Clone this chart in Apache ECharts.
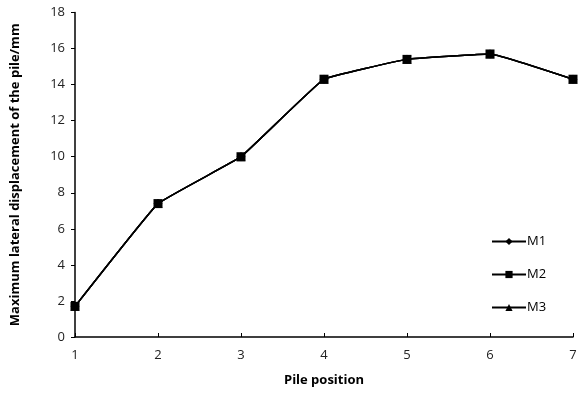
<!DOCTYPE html>
<html>
<head>
<meta charset="utf-8">
<script src="https://cdn.jsdelivr.net/npm/echarts@6/dist/echarts.min.js"></script>
<style>
  html, body { margin: 0; padding: 0; background: #fff; }
  #chart { width: 584px; height: 393px; }
</style>
</head>
<body>
<div id="chart"></div>
<script>
// Pile positions along the row
const positions = [1, 2, 3, 4, 5, 6, 7];
// Maximum lateral displacement (mm) for each model
const m1 = [1.7, 7.4, 10.0, 14.3, 15.4, 15.7, 14.3];
const m2 = [1.7, 7.4, 10.0, 14.3, 15.4, 15.7, 14.3];
const m3 = [1.7, 7.4, 10.0, 14.3, 15.4, 15.7, 14.3];
const seriesNames = ['M1', 'M2', 'M3'];

const font = '"Open Sans", "Noto Sans", sans-serif';
const pair = (vals) => positions.map((p, i) => [p, vals[i]]);

const chart = echarts.init(document.getElementById('chart'), null, { renderer: 'canvas' });

function lineSeries(name, vals, symbol, size, z) {
  return {
    name: name,
    type: 'line',
    data: pair(vals),
    smooth: 0.08,
    symbol: symbol,
    symbolSize: size,
    z: z,
    lineStyle: { color: '#000', width: 1.5 },
    itemStyle: { color: '#000' },
    emphasis: { disabled: true }
  };
}

chart.setOption({
  animation: false,
  grid: { left: 75, right: 11, top: 12.5, bottom: 56, containLabel: false },
  legend: {
    orient: 'vertical',
    left: 486,
    top: 230,
    itemGap: 20,
    itemWidth: 34,
    itemHeight: 9,
    data: seriesNames,
    textStyle: { fontFamily: font, fontSize: 13, color: '#000', padding: [0, 0, 0, -4] }
  },
  xAxis: {
    type: 'value',
    min: 1,
    max: 7,
    interval: 1,
    name: 'Pile position',
    nameLocation: 'middle',
    nameGap: 37,
    nameTextStyle: { fontFamily: font, fontSize: 13, fontWeight: 'bold', color: '#000' },
    axisLine: { lineStyle: { color: '#000', width: 1.5 } },
    axisTick: { inside: true, length: 4, lineStyle: { color: '#000', width: 1 } },
    axisLabel: { fontFamily: font, fontSize: 13, color: '#222', margin: 12 },
    splitLine: { show: false }
  },
  yAxis: {
    type: 'value',
    min: 0,
    max: 18,
    interval: 2,
    name: 'Maximum lateral displacement of the pile/mm',
    nameLocation: 'middle',
    nameGap: 53,
    nameTextStyle: { fontFamily: font, fontSize: 13, fontWeight: 'bold', color: '#000' },
    axisLine: { show: true, lineStyle: { color: '#000', width: 1.5 } },
    axisTick: { show: true, length: 4, lineStyle: { color: '#000', width: 1 } },
    axisLabel: { fontFamily: font, fontSize: 13, color: '#222', margin: 10 },
    splitLine: { show: false }
  },
  series: [
    lineSeries('M1', m1, 'diamond', 9, 2),
    lineSeries('M3', m3, 'triangle', 9, 2),
    lineSeries('M2', m2, 'rect', 9, 3)
  ]
});
</script>
</body>
</html>
